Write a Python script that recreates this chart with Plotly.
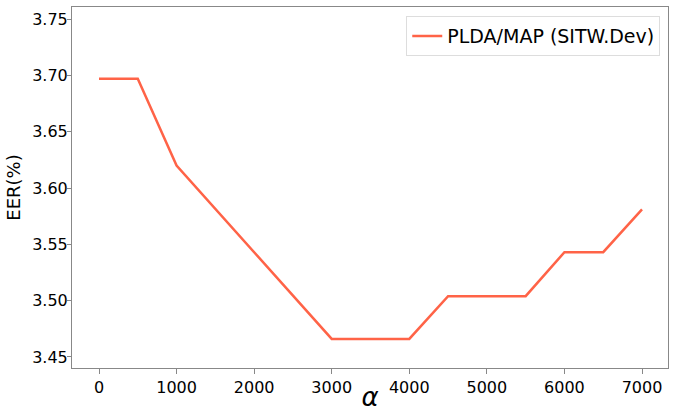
import plotly.graph_objects as go

alpha = [0, 500, 1000, 3000, 4000, 4500, 5500, 6000, 6500, 7000]
eer = [3.697, 3.697, 3.620, 3.466, 3.466, 3.504, 3.504, 3.543, 3.543, 3.581]
series_name = "PLDA/MAP (SITW.Dev)"
x_ticks = [0, 1000, 2000, 3000, 4000, 5000, 6000, 7000]
y_ticks = [3.45, 3.50, 3.55, 3.60, 3.65, 3.70, 3.75]

fig = go.Figure()
fig.add_trace(go.Scatter(x=alpha, y=eer, mode="lines", name=series_name,
                         line=dict(color="#FF6347", width=2.5)))

font = "DejaVu Sans"
fig.update_layout(
    width=687, height=412,
    margin=dict(l=72, r=19, t=7, b=44),
    paper_bgcolor="white", plot_bgcolor="white",
    font=dict(family=font, color="black", size=16),
    showlegend=True,
    legend=dict(x=0.987, y=0.975, xanchor="right", yanchor="top",
                bordercolor="#dddddd", borderwidth=1, bgcolor="white",
                font=dict(size=19, family=font)),
)
fig.update_xaxes(range=[-348, 7335], tickvals=x_ticks,
                 ticktext=[str(v) for v in x_ticks], automargin=False,
                 showgrid=False, zeroline=False, showline=True, mirror=True,
                 linecolor="#888888", linewidth=1, ticks="outside", ticklen=5,
                 tickcolor="#888888", tickfont=dict(size=16),
                 title=dict(text="<i>α</i>", font=dict(size=26), standoff=0))
fig.update_yaxes(range=[3.4402, 3.7607], tickvals=y_ticks,
                 ticktext=["%.2f" % v for v in y_ticks], automargin=False,
                 showgrid=False, zeroline=False, showline=True, mirror=True,
                 linecolor="#888888", linewidth=1, ticks="outside", ticklen=4,
                 ticklabelstandoff=-4,
                 tickcolor="#888888", tickfont=dict(size=16),
                 title=dict(text="EER(%)", font=dict(size=18), standoff=6))

fig.write_html("out.html", config={"displayModeBar": False},
               post_script="document.body.style.margin='0';document.body.style.overflow='hidden';")
